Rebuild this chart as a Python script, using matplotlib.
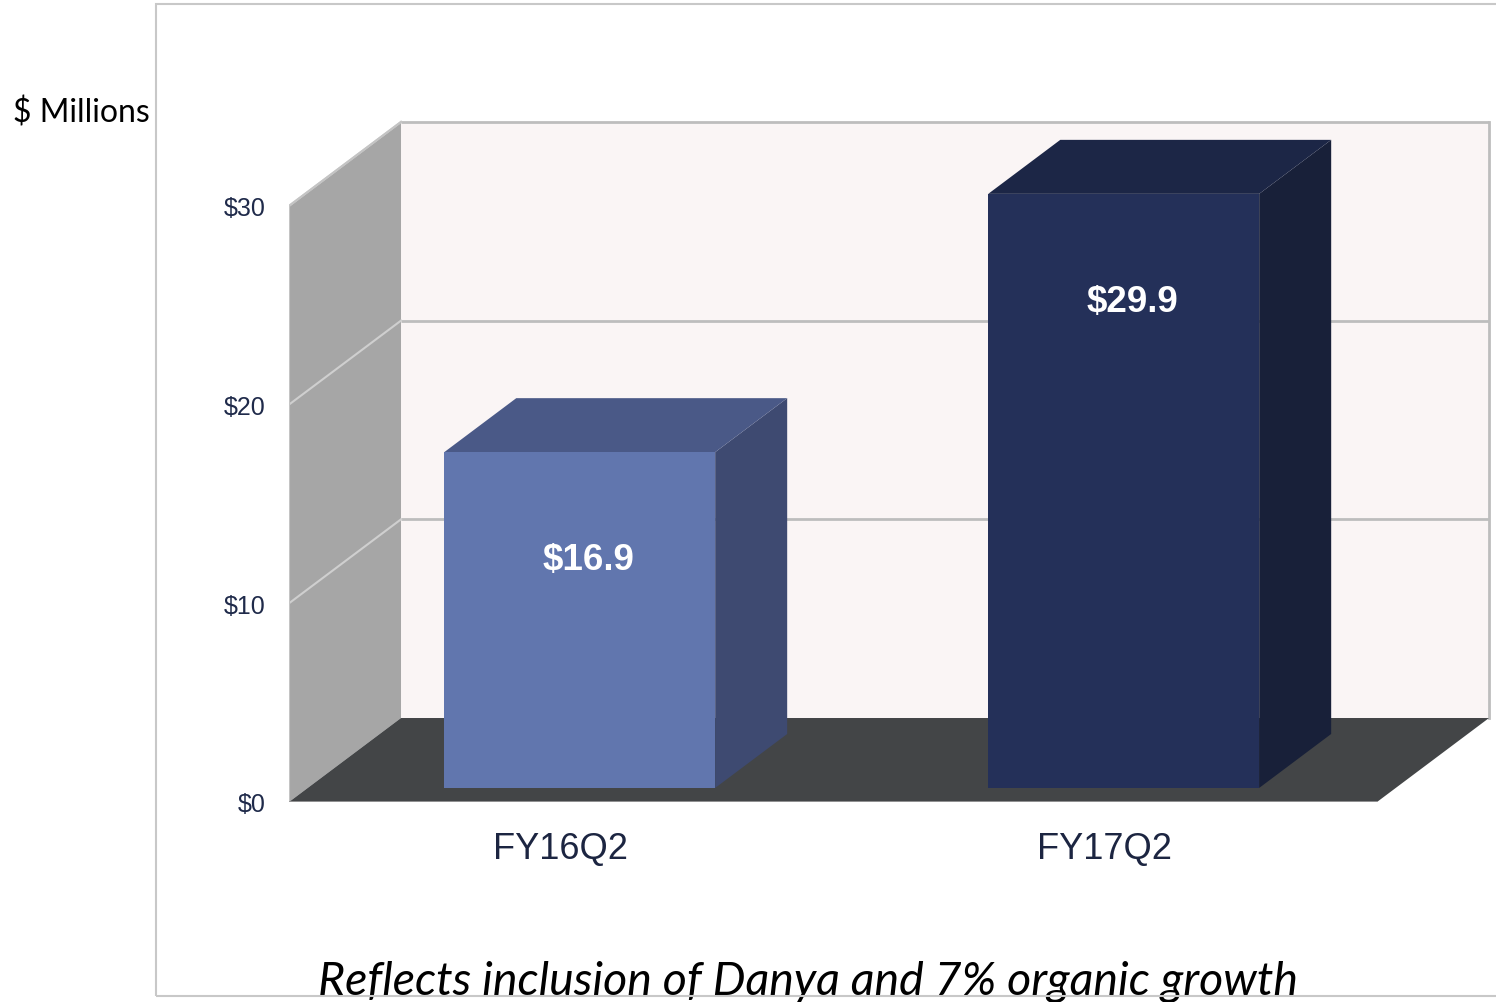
import matplotlib
matplotlib.use("Agg")
import matplotlib.pyplot as plt
from matplotlib.patches import Polygon, Rectangle

# ---- data ----
categories = ["FY16Q2", "FY17Q2"]
values = [16.9, 29.9]
value_labels = ["$16.9", "$29.9"]
yticks = [0, 10, 20, 30]
ytick_labels = ["$0", "$10", "$20", "$30"]
unit_label = "$ Millions"
footnote = "Reflects inclusion of Danya and 7% organic growth"

# ---- styles ----
front_colors = ["#6176ae", "#243059"]
top_colors = ["#4a5987", "#1c2646"]
side_colors = ["#3e4a71", "#182039"]
wall_color = "#faf5f5"
side_wall_color = "#a6a6a6"
floor_color = "#434547"
grid_color = "#bdbdbd"
text_navy = "#1f2a4a"

XMIN, XMAX = -0.5, 1.72
YMIN, YMAX = 0.0, 34.5
DX, DY = 0.2059, 4.227        # full depth offset in data units
Z0, Z1 = 0.167, 0.81          # bar depth range (fraction of depth)
HALF_W = 0.249

fig = plt.figure(figsize=(14.96, 10.03), dpi=100)
ax = fig.add_axes([289 / 1496, 200 / 1003, 2.22 * 544 / 1496, 34.5 * 19.87 / 1003])
ax.set_xlim(XMIN, XMAX)
ax.set_ylim(YMIN, YMAX)
for s in ax.spines.values():
    s.set_visible(False)

xl, xr = -0.5, len(categories) - 0.5
top = max(yticks)

def poly(pts, fc, ec="none", lw=0, z=1):
    ax.add_patch(Polygon(pts, closed=True, facecolor=fc, edgecolor=ec, linewidth=lw, zorder=z))

# back wall
poly([(xl + DX, DY), (xr + DX, DY), (xr + DX, top + DY), (xl + DX, top + DY)], wall_color, z=1)
# left wall
poly([(xl, 0), (xl + DX, DY), (xl + DX, top + DY), (xl, top)], side_wall_color, z=1)
ax.plot([xl, xl, xl + DX], [0, top, top + DY], color="#c4c4c4", lw=1.5, zorder=1.6)
# floor
poly([(xl, 0), (xr, 0), (xr + DX, DY), (xl + DX, DY)], floor_color, z=2)
ax.plot([xl, xr], [0, 0], color="#a0a0a0", lw=1.2, zorder=2.1)

# gridlines
for t in yticks[1:]:
    ax.plot([xl + DX, xr + DX], [t + DY, t + DY], color=grid_color, lw=2, zorder=1.5, solid_capstyle="butt")
    ax.plot([xl, xl + DX], [t, t + DY], color="#cfcfcf", lw=1.5, zorder=1.5)
ax.plot([xr + DX, xr + DX], [DY, top + DY], color=grid_color, lw=2, zorder=1.5)

# bars
for i, (v, fc, tc, sc) in enumerate(zip(values, front_colors, top_colors, side_colors)):
    l0 = i - HALF_W + Z0 * DX
    r0 = i + HALF_W + Z0 * DX
    b0 = Z0 * DY
    l1 = i - HALF_W + Z1 * DX
    r1 = i + HALF_W + Z1 * DX
    b1 = Z1 * DY
    poly([(r0, b0), (r1, b1), (r1, v + b1), (r0, v + b0)], sc, z=3)
    poly([(l0, v + b0), (r0, v + b0), (r1, v + b1), (l1, v + b1)], tc, z=3)
    poly([(l0, b0), (r0, b0), (r0, v + b0), (l0, v + b0)], fc, z=4)
    ax.text(i + 0.05, v - 4.7, value_labels[i], color="white", fontsize=26.5,
            fontweight="bold", family="Liberation Sans", ha="center", va="center", zorder=5)

ax.set_yticks(yticks)
ax.set_yticklabels(ytick_labels, family="Liberation Sans", fontsize=18, color=text_navy)
ax.set_xticks(range(len(categories)))
ax.set_xticklabels(categories, family="Liberation Sans", fontsize=26, color="#1c2541")
ax.tick_params(axis="y", length=0, pad=17)
ax.tick_params(axis="x", length=0, pad=21)

fig.text(13 / 1496, (1003 - 122) / 1003, unit_label, family="Lato", fontsize=23,
         color="black", ha="left", va="baseline")
fig.text(807.5 / 1496, 8 / 1003, footnote, family="Lato", style="italic", fontsize=33.5,
         color="black", ha="center", va="baseline")

fig.patches.append(Rectangle((156 / 1496, 6 / 1003), 1.0, 992 / 1003, transform=fig.transFigure,
                             facecolor="none", edgecolor="#c8c8c8", linewidth=1.5, zorder=10))
fig.patches.append(Rectangle((0, 0), 1, 1, transform=fig.transFigure,
                             facecolor="white", edgecolor="none", zorder=-10))

fig.savefig("out.png", dpi=100)
